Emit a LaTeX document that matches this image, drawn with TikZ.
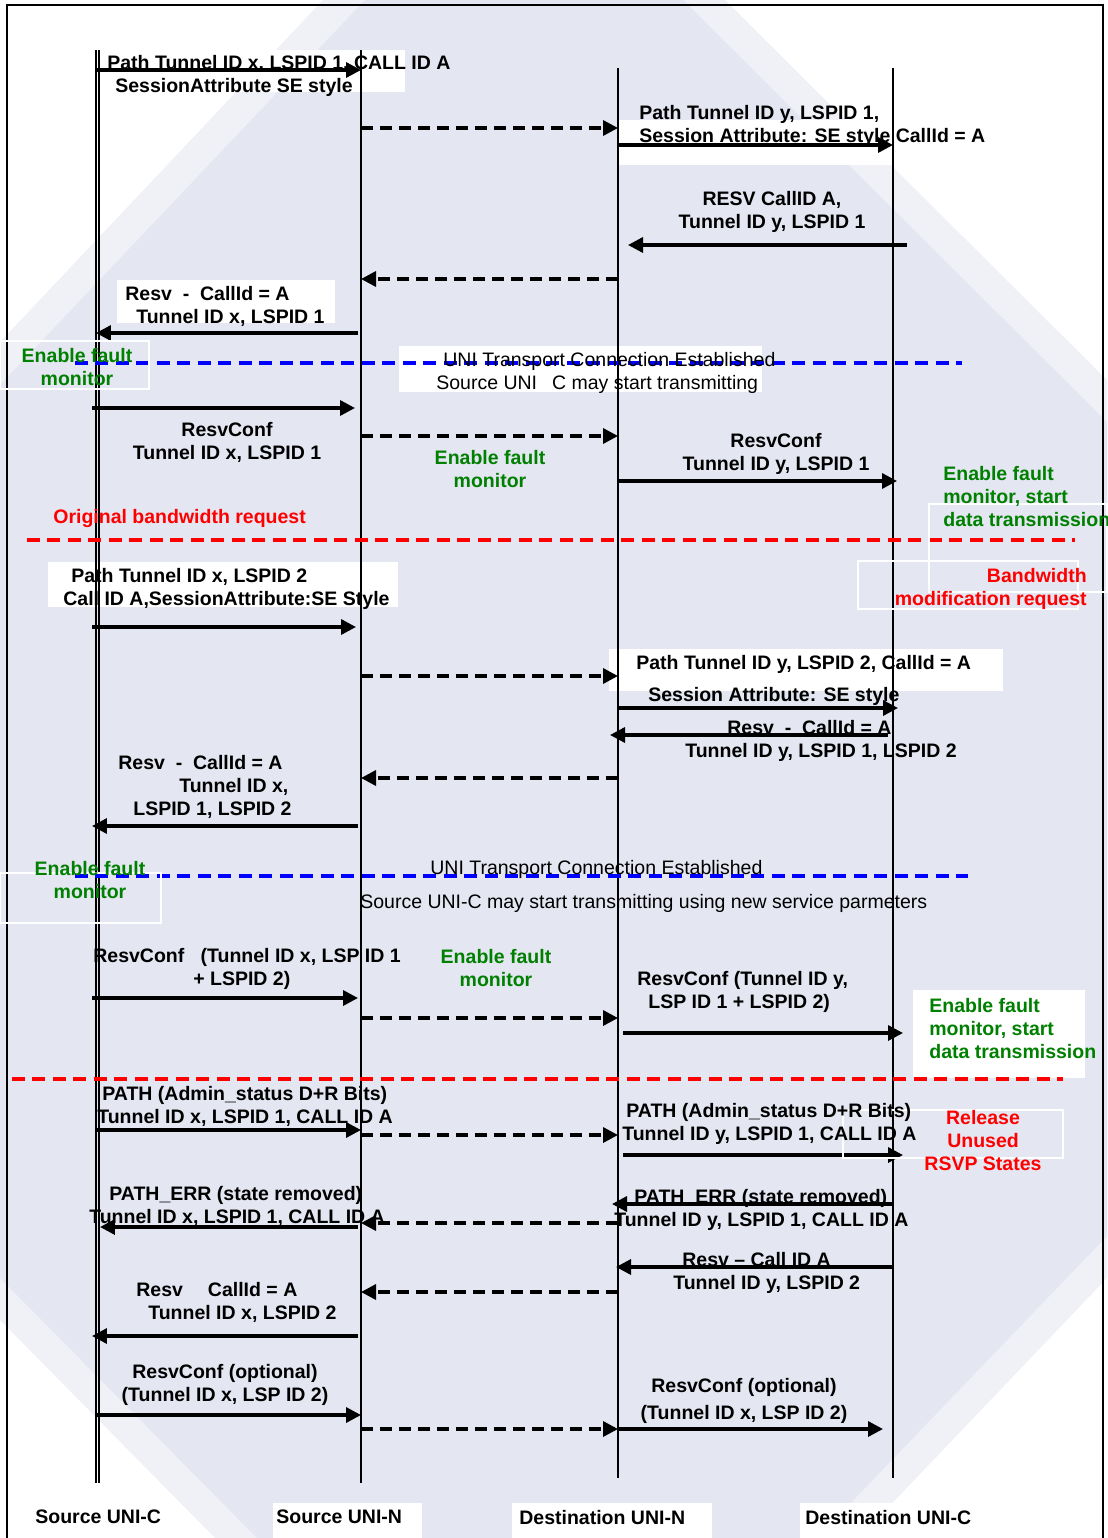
\documentclass[tikz,border=0pt]{standalone}
\usepackage{fontspec}
\setmainfont{Liberation Sans}
\usetikzlibrary{arrows.meta,calc}
\definecolor{bgblue}{RGB}{228,230,241}
\definecolor{okgreen}{RGB}{0,128,0}

\begin{document}
\begin{tikzpicture}[x=0.02cm, y=-0.02cm,
  txt/.style={inner sep=0pt, font=\bfseries\fontsize{11.1}{13.1}\selectfont},
  plain/.style={inner sep=0pt, font=\fontsize{11.1}{13.1}\selectfont},
  msg/.style={line width=1.9pt, -{Triangle[length=0.3cm,width=0.3cm]}},
  dmsg/.style={msg, dash pattern=on 0.24cm off 0.14cm},
  sep/.style={line width=2.2pt, dash pattern=on 0.26cm off 0.15cm},
  life/.style={line width=1.2pt},
  wbox/.style={draw=white, line width=1pt}]
\useasboundingbox (0,0) rectangle (1107,1538);

% Background and frame
\fill[bgblue!55] (323,0) -- (725,0) -- (1107,380) -- (1107,1278) -- (859,1538)
  -- (215,1538) -- (0,1320) -- (0,342) -- cycle;
\fill[bgblue] (365,0) -- (683,0) -- (1107,422) -- (1107,1236) -- (817,1538)
  -- (257,1538) -- (0,1278) -- (0,385) -- cycle;
\draw[line width=1.3pt] (7,1538) -- (7,5) -- (1103,5) -- (1103,1538);

% White label backgrounds
\foreach \a/\b/\c/\d in {98/50/405/92, 618/120/893/165, 117/280/335/323,
    399/346/762/392, 48/562/398/607, 609/649/1003/691, 913/990/1085/1078,
    273/1503/422/1538, 512/1503/712/1538, 800/1503/1000/1538} {
  \fill[white] (\a,\b) rectangle (\c,\d);
}

% Lifelines
\coordinate (sc) at (96,50);   \coordinate (scb) at (96,1483);
\coordinate (sci) at (99,50);  \coordinate (scib) at (99,1483);
\coordinate (sn) at (361,50);  \coordinate (snb) at (361,1483);
\coordinate (dn) at (618,68);  \coordinate (dnb) at (618,1478);
\coordinate (dc) at (893,68);  \coordinate (dcb) at (893,1478);
\draw[life] (sc) -- (scb);
\draw[life] (sci) -- (scib);
\draw[life] (sn) -- (snb);
\draw[life] (dn) -- (dnb);
\draw[life] (dc) -- (dcb);

% Separators
\draw[sep, blue] (75,363) -- (962,363);
\draw[sep, red] (27,540) -- (1075,540);
\draw[sep, blue] (75,876) -- (968,876);
\draw[sep, red] (12,1079) -- (1063,1079);

% Solid messages
\foreach \y/\a/\da/\b/\db in {70/sc/0/sn/0, 145/dn/0/dc/0, 245/dc/14/dn/10,
    333/sn/-3/sc/0, 408/sc/-4/sn/-6, 481/dn/0/dc/4, 627/sc/-4/sn/-5,
    708/dn/0/dc/5, 735/dc/-5/dn/-8, 826/sn/-3/sc/-4, 998/sc/-4/sn/-3,
    1033/dn/5/dc/10, 1130/sc/0/sn/0, 1155/dn/5/dc/10, 1227/sn/-3/sc/4,
    1204/dc/0/dn/-6, 1267/dc/0/dn/-2, 1336/sn/-3/sc/-4, 1415/sc/0/sn/0,
    1429/dn/0/dc/-10} {
  \draw[msg] ($(\a |- 0,\y)+(\da,0)$) -- ($(\b |- 0,\y)+(\db,0)$);
}

% Dashed messages
\foreach \y/\a/\b in {128/sn/dn, 279/dn/sn, 436/sn/dn, 676/sn/dn, 778/dn/sn,
    1018/sn/dn, 1135/sn/dn, 1223/dn/sn, 1292/dn/sn, 1429/sn/dn} {
  \draw[dmsg] (\a |- 0,\y) -- (\b |- 0,\y);
}

% Outline boxes
\foreach \a/\b/\c/\d in {0/341/149/389, 0/873/161/923, 929/504/1107/592,
    858/561/1078/609, 843/1110/1063/1158} {
  \draw[wbox] (\a,\b) rectangle (\c,\d);
}

% Message labels
\node[txt, anchor=north west, align=left] (pathx) at (107,55)
  {Path Tunnel ID x, LSPID 1, CALL ID A\\\hspace*{0.16cm}SessionAttribute SE style};
\node[txt, anchor=north west, align=left] (pathy) at (639,105)
  {Path Tunnel ID y, LSPID 1,\\Session Attribute: SE style CallId = A};
\node[txt, anchor=north, align=center] (resvy) at (772,191)
  {RESV CallID A,\\Tunnel ID y, LSPID 1};
\node[txt, anchor=north west, align=left] (resvx) at (125,286)
  {Resv\ \ -\ \ CallId = A\\\hspace*{0.22cm}Tunnel ID x, LSPID 1};
\node[txt, okgreen, anchor=north, align=center] (faulta) at (77,348)
  {Enable fault\\monitor};
\node[plain, anchor=north west, align=left] (unia) at (436,352)
  {\hspace*{0.14cm}UNI Transport Connection Established\\Source UNI\hspace{0.3cm}C may start transmitting};
\node[txt, anchor=north, align=center] (confx) at (227,422)
  {ResvConf\\Tunnel ID x, LSPID 1};
\node[txt, okgreen, anchor=north, align=center] (faultb) at (490,450)
  {Enable fault\\monitor};
\node[txt, anchor=north, align=center] (confy) at (776,433)
  {ResvConf\\Tunnel ID y, LSPID 1};
\node[txt, okgreen, anchor=north west, align=left] (faultc) at (943,466)
  {Enable fault\\monitor, start\\data transmission};
\node[txt, red, anchor=north west] (orig) at (53,509) {Original bandwidth request};
\node[txt, anchor=north west, align=left] (pathx2) at (63,568)
  {\hspace*{0.16cm}Path Tunnel ID x, LSPID 2\\Call ID A,SessionAttribute:SE Style};
\node[txt, red, anchor=north east, align=right] (bwmod) at (1087,568)
  {Bandwidth\\modification request};
\node[txt, anchor=north west, align=left] (pathy2) at (636,655)
  {Path Tunnel ID y, LSPID 2, CallId = A\\[0.18cm]\hspace*{0.24cm}Session Attribute: SE style};
\node[txt, anchor=north west, align=left] (resvy2) at (685,720)
  {\hspace*{0.84cm}Resv\ \ -\ \ CallId = A\\Tunnel ID y, LSPID 1, LSPID 2};
\node[txt, anchor=north west, align=left] (resvx2) at (118,755)
  {Resv\ \ -\ \ CallId = A\\\hspace*{1.22cm}Tunnel ID x,\\\hspace*{0.3cm}LSPID 1, LSPID 2};
\node[txt, okgreen, anchor=north, align=center] (faultd) at (90,861)
  {Enable fault\\monitor};
\node[plain, anchor=north west, align=left] (unib) at (360,860)
  {\hspace*{1.4cm}UNI Transport Connection Established\\[0.22cm]Source UNI-C may start transmitting using new service parmeters};
\node[txt, anchor=north west, align=left] (confx2) at (93,948)
  {ResvConf\ \ \ (Tunnel ID x, LSP ID 1\\\hspace*{2cm}+ LSPID 2)};
\node[txt, okgreen, anchor=north, align=center] (faulte) at (496,949)
  {Enable fault\\monitor};
\node[txt, anchor=north west, align=left] (confy2) at (637,971)
  {ResvConf (Tunnel ID y,\\\hspace*{0.22cm}LSP ID 1 + LSPID 2)};
\node[txt, okgreen, anchor=north west, align=left] (faultf) at (929,998)
  {Enable fault\\monitor, start\\data transmission};
\node[txt, anchor=north west, align=left] (adminx) at (97,1086)
  {\hspace*{0.1cm}PATH (Admin\_status D+R Bits)\\Tunnel ID x, LSPID 1, CALL ID A};
\node[txt, anchor=north west, align=left] (adminy) at (622,1103)
  {\hspace*{0.08cm}PATH (Admin\_status D+R Bits)\\Tunnel ID y, LSPID 1, CALL ID A};
\node[txt, red, anchor=north, align=center] (release) at (983,1110)
  {Release\\Unused\\RSVP States};
\node[txt, anchor=north west, align=left] (errx) at (89,1186)
  {\hspace*{0.4cm}PATH\_ERR (state removed)\\Tunnel ID x, LSPID 1, CALL ID A};
\node[txt, anchor=north west, align=left] (erry) at (614,1189)
  {\hspace*{0.4cm}PATH\_ERR (state removed)\\Tunnel ID y, LSPID 1, CALL ID A};
\node[txt, anchor=north west, align=left] (resvy3) at (673,1252)
  {\hspace*{0.18cm}Resv – Call ID A\\Tunnel ID y, LSPID 2};
\node[txt, anchor=north west, align=left] (resvx3) at (136,1282)
  {Resv\hspace{0.5cm}CallId = A\\\hspace*{0.24cm}Tunnel ID x, LSPID 2};
\node[txt, anchor=north, align=center] (optx) at (225,1364)
  {ResvConf (optional)\\(Tunnel ID x, LSP ID 2)};
\node[txt, anchor=north, align=center] (opty) at (744,1378)
  {ResvConf (optional)\\[0.08cm](Tunnel ID x, LSP ID 2)};

% Lifeline names
\node[txt, anchor=north west] (srcc) at (35,1510) {Source UNI-C};
\node[txt, anchor=north west] (srcn) at (276,1510) {Source UNI-N};
\node[txt, anchor=north west] (dstn) at (519,1510) {Destination UNI-N};
\node[txt, anchor=north west] (dstc) at (805,1510) {Destination UNI-C};
\end{tikzpicture}
\end{document}
